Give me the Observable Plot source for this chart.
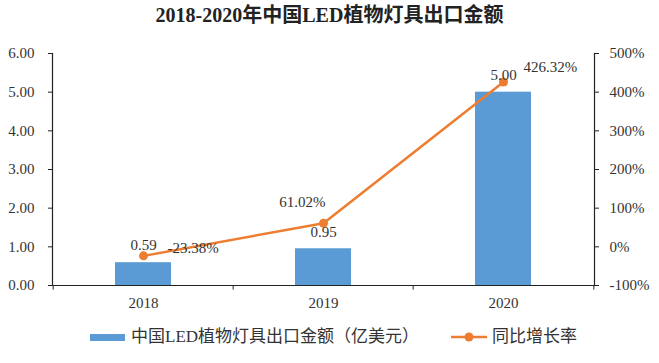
<!DOCTYPE html>
<html>
<head>
<meta charset="utf-8">
<script src="https://cdn.jsdelivr.net/npm/d3@7"></script>
<script src="https://cdn.jsdelivr.net/npm/@observablehq/plot@0.6"></script>
<style>
  html, body { margin: 0; padding: 0; background: #fff; }
  body { position: relative; width: 659px; height: 363px; overflow: hidden;
         font-family: "Liberation Serif", "Times New Roman", "Noto Sans CJK SC", serif; color: #333; }
  #title { position: absolute; left: 0; top: 3px; width: 659px; text-align: center;
           font-size: 20px; font-weight: bold; color: #222; line-height: 24px; }
  #chart { position: absolute; left: 0; top: 40px; }
  #legend { position: absolute; left: 90px; top: 328px; display: flex; align-items: center;
            font-size: 17px; line-height: 18px; color: #333; }
  .item { display: flex; align-items: center; }
  .swatch-bar { width: 35px; height: 7px; background: #5B9BD5; margin-right: 6px; }
  .swatch-line { margin-right: 5px; }
</style>
</head>
<body>
<div id="title">2018-2020年中国LED植物灯具出口金额</div>
<div id="chart"></div>
<div id="legend">
  <div class="item"><div class="swatch-bar"></div><span>中国LED植物灯具出口金额（亿美元）</span></div>
  <div class="item" style="margin-left:32px"><svg class="swatch-line" width="36" height="12"><line x1="0" y1="6" x2="36" y2="6" stroke="#ED7D31" stroke-width="2.5"/><circle cx="18" cy="6" r="4.5" fill="#ED7D31"/></svg><span>同比增长率</span></div>
</div>
<script>
const years = ["2018", "2019", "2020"];
const exportValues = [0.59, 0.95, 5.00];        // 亿美元
const growthRates = [-23.38, 61.02, 426.32];    // %
const leftTicks = [0, 1, 2, 3, 4, 5, 6];
const rightTicks = [-100, 0, 100, 200, 300, 400, 500];

const growthToY = g => (g + 100) / 100;   // map right axis (-100%..500%) onto left (0..6)
const data = years.map((year, i) => ({year, value: exportValues[i], growth: growthRates[i]}));

const W = 659, H = 280, mL = 52, mR = 65, mT = 13, mB = 35;
const step = (W - mL - mR) / years.length;
const orange = "#ED7D31", blue = "#5B9BD5", axisColor = "#222";
const fmt2 = d => d.toFixed(2);
const pct = d => d.toFixed(2) + "%";

const plot = Plot.plot({
  width: W, height: H,
  marginLeft: mL, marginRight: mR, marginTop: mT, marginBottom: mB,
  style: {fontFamily: '"Liberation Serif","Times New Roman","Noto Sans CJK SC",serif', fontSize: "15px", color: "#333", background: "#fff"},
  x: {domain: years, paddingInner: 0.69, paddingOuter: 0.345, label: null},
  y: {domain: [0, 6], label: null},
  marks: [
    Plot.barY(data, {x: "year", y: "value", fill: blue}),
    Plot.ruleY([0], {stroke: axisColor, strokeWidth: 1.2}),
    Plot.frame({anchor: "left", stroke: axisColor, strokeWidth: 1.2}),
    Plot.frame({anchor: "right", stroke: axisColor, strokeWidth: 1.2}),
    Plot.ruleX(years, {x: d => d, y1: 0, y2: -0.12, dx: -step / 2, stroke: axisColor, clip: false}),
    Plot.ruleX(years.slice(-1), {x: d => d, y1: 0, y2: -0.12, dx: step / 2, stroke: axisColor, clip: false}),
    Plot.axisX({tickSize: 0, tickPadding: 12, fontSize: 15, label: null}),
    Plot.axisY({anchor: "left", ticks: leftTicks, tickFormat: fmt2, tickSize: 4, tickPadding: 14, fontSize: 15, label: null, stroke: axisColor}),
    Plot.axisY({anchor: "right", ticks: rightTicks.map(growthToY), tickFormat: d => Math.round(d * 100 - 100) + "%", tickSize: 4, tickPadding: 11, fontSize: 15, label: null, stroke: axisColor}),
    Plot.line(data, {x: "year", y: d => growthToY(d.growth), stroke: orange, strokeWidth: 2.5}),
    Plot.dot(data, {x: "year", y: d => growthToY(d.growth), r: 4.5, fill: orange}),
    Plot.text(data, {x: "year", y: "value", text: d => fmt2(d.value), dy: -17, fontSize: 15, fill: "#333"}),
    Plot.text(data.filter(d => d.year === "2018"), {x: "year", y: d => growthToY(d.growth), text: d => pct(d.growth), textAnchor: "start", dx: 24, dy: -8, fontSize: 15, fill: "#333"}),
    Plot.text(data.filter(d => d.year === "2019"), {x: "year", y: d => growthToY(d.growth), text: d => pct(d.growth), textAnchor: "end", dx: 2, dy: -21, fontSize: 15, fill: "#333"}),
    Plot.text(data.filter(d => d.year === "2020"), {x: "year", y: d => growthToY(d.growth), text: d => pct(d.growth), textAnchor: "start", dx: 20, dy: -15, fontSize: 15, fill: "#333"})
  ]
});
document.getElementById("chart").appendChild(plot);
</script>
</body>
</html>
